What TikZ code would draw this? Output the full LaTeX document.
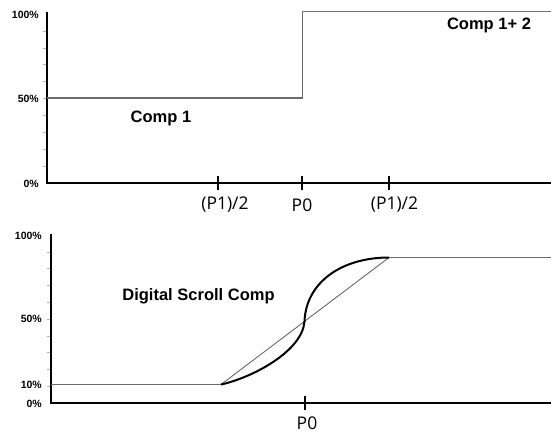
\documentclass[tikz,border=0pt]{standalone}
\usepackage{fontspec}
\setmainfont{Liberation Sans}
\newfontfamily\tickfont{Open Sans}
\begin{document}
\begin{tikzpicture}[x=1pt,y=-1pt,
  axis/.style={line width=2pt,black},
  minortick/.style={line width=0.6pt,gray!60},
  xtick/.style={line width=1.8pt,black},
  curve/.style={line width=1.5pt,gray!85!black},
  thin/.style={line width=0.8pt,gray!70!black},
  scurve/.style={line width=2pt,black},
  ylab/.style={font=\bfseries\fontsize{10.5}{12}\selectfont,anchor=east,inner sep=0pt},
  xlab/.style={font=\tickfont\fontsize{17.5}{20}\selectfont,inner sep=0pt},
  title/.style={font=\bfseries\fontsize{16.5}{19}\selectfont,inner sep=0pt}]
\useasboundingbox (0,0) rectangle (551,434);
% ---------- top chart ----------
\coordinate (o1) at (47,183);
\coordinate (t1) at (47,12);
\coordinate (e1) at (551,183);
\foreach \k in {1,...,9} \draw[minortick] (43,{183-16.9*\k}) -- (47,{183-16.9*\k});
\draw[axis] (t1) -- (o1) -- (e1);
\foreach \xx/\nm in {218/a,302/b,389/c} {
  \coordinate (tk\nm) at (\xx,183);
  \draw[xtick] ([yshift=-7pt]tk\nm) -- ([yshift=7pt]tk\nm);
}
\node[ylab] (l100a) at (39,15) {100\%};
\node[ylab] (l50a) at (39,99) {50\%};
\node[ylab] (l0a) at (39,184) {0\%};
\node[xlab] (p1a) at (225,205) {(P1)/2};
\node[xlab] (p0a) at (302,205) {P0};
\node[xlab] (p1b) at (394.5,205) {(P1)/2};
\coordinate (s0) at (47,98);
\coordinate (s1) at (302.5,98);
\coordinate (s2) at (302.5,11.5);
\coordinate (s3) at (551,11.5);
\draw[curve] (s0) -- (s1) -- (s2) -- (s3);
\node[title] (comp1) at (161,118) {Comp 1};
\node[title] (comp12) at (489,25) {Comp 1+ 2};
% ---------- bottom chart ----------
\coordinate (o2) at (50.5,403);
\coordinate (t2) at (50.5,234);
\coordinate (e2) at (551,403);
\foreach \k in {1,...,9} \draw[minortick] (46.5,{403-16.8*\k}) -- (50.5,{403-16.8*\k});
\draw[axis] (t2) -- (o2) -- (e2);
\coordinate (tkd) at (305,403);
\draw[xtick] ([yshift=-7pt]tkd) -- ([yshift=7pt]tkd);
\node[ylab] (l100b) at (42,236) {100\%};
\node[ylab] (l50b) at (42,319) {50\%};
\node[ylab] (l10b) at (42,384.5) {10\%};
\node[ylab] (l0b) at (42,403.5) {0\%};
\node[xlab] (p0c) at (307,423.5) {P0};
\node[title] (dsc) at (198.5,296) {Digital Scroll Comp};
\coordinate (f0) at (50.5,384.5);
\coordinate (fa) at (221,384.5);
\coordinate (fm) at (304.5,321.5);
\coordinate (fb) at (389,257.5);
\coordinate (f3) at (551,257.5);
\draw[curve] (f0) -- (fa);
\draw[curve] (fb) -- (f3);
\draw[thin] (fa) -- (fb);
\draw[scurve] (fa) .. controls (251,378) and (302,352) .. (fm)
  .. controls (306,282) and (342,257.5) .. (fb);
\end{tikzpicture}
\end{document}
